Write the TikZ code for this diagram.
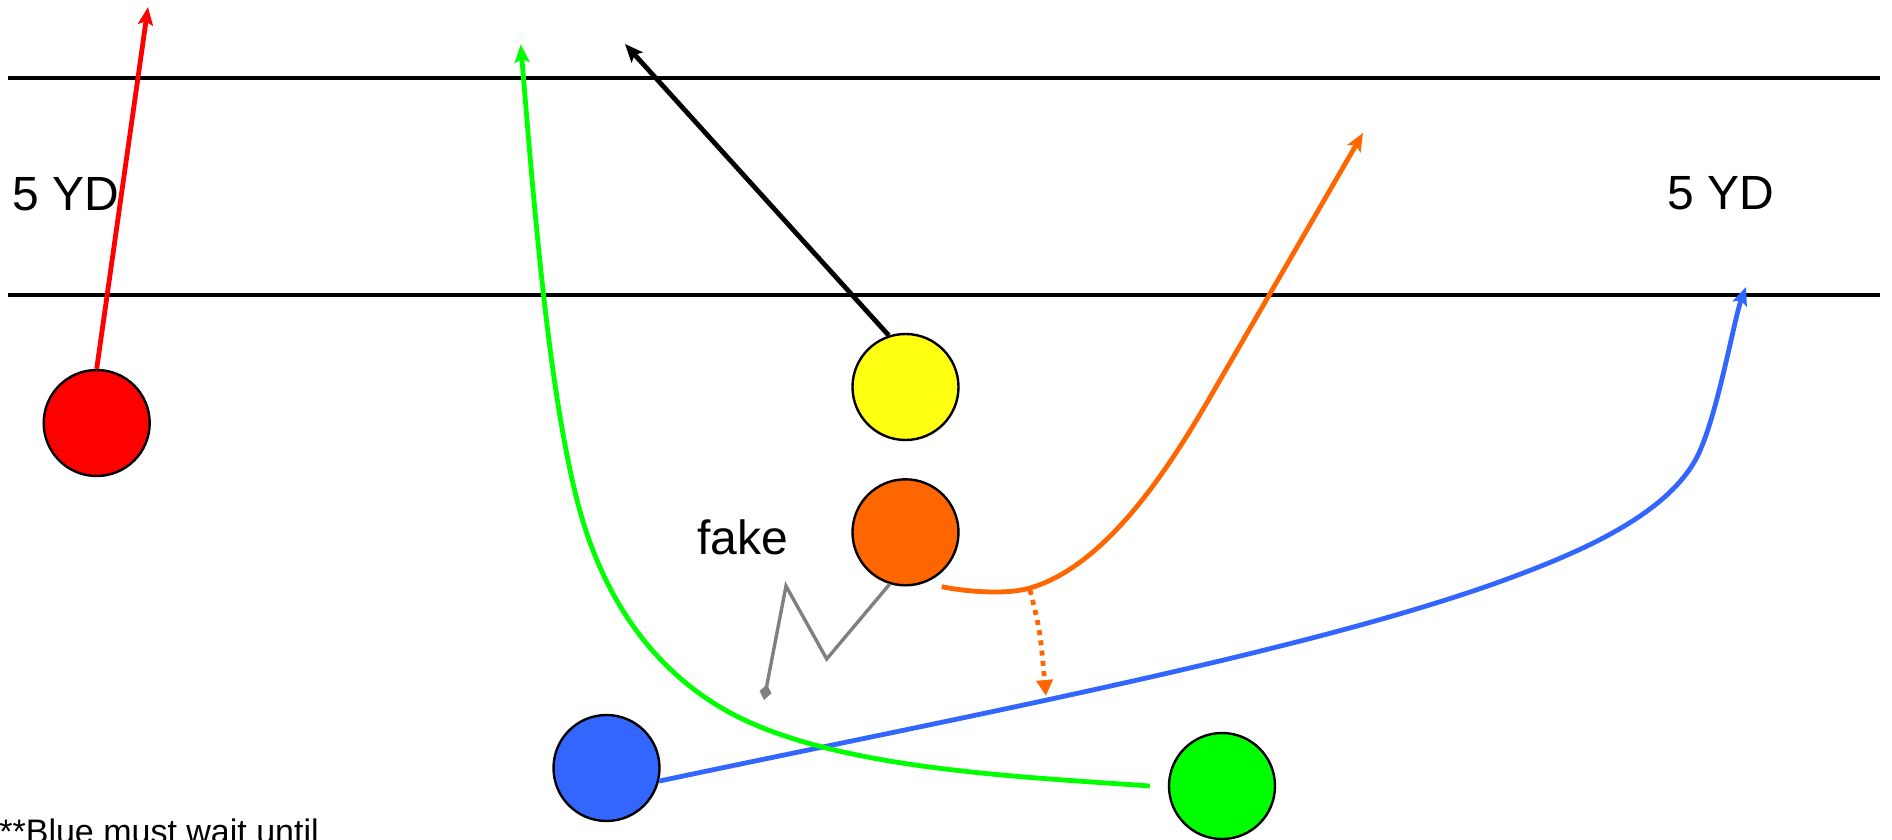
\documentclass[tikz,border=0pt]{standalone}
\usepackage{fontspec}
\setmainfont{Liberation Sans}
\usetikzlibrary{arrows.meta,calc}
\definecolor{pred}{HTML}{FF0000}
\definecolor{pyellow}{HTML}{FFFF11}
\definecolor{porange}{HTML}{FF6600}
\definecolor{pblue}{HTML}{3366FF}
\definecolor{pgreen}{HTML}{00FF00}
\definecolor{pgray}{HTML}{808080}
\begin{document}
\begin{tikzpicture}[x=0.5pt,y=-0.5pt,
  player/.style={circle,draw=black,line width=1.2pt,minimum size=53pt,inner sep=0pt},
  route/.style={line width=2.4pt,-{Stealth[length=9pt,width=7.5pt,inset=1.8pt]}},
  yardline/.style={line width=1.6pt,black},
  lbl/.style={font=\fontsize{24pt}{28pt}\selectfont,inner sep=0pt,anchor=base west}
]
\useasboundingbox (0,0) rectangle (1892,840);

% yard lines
\coordinate (t1) at (8,78);
\coordinate (t2) at (1880,78);
\coordinate (b1) at (8,295);
\coordinate (b2) at (1880,295);
\draw[yardline] (t1) -- (t2);
\draw[yardline] (b1) -- (b2);

% labels
\node[lbl] (yl1) at (12,211) {5 YD};
\node[lbl] (yl2) at (1667,210) {5 YD};
\node[lbl] (fk) at (697,554) {fake};
\node[inner sep=0pt,anchor=base west,font=\fontsize{17pt}{20pt}\selectfont] (note) at (-1,843) {**Blue must wait until};

% players
\node[player,fill=pred] (rd) at (96.7,423) {};
\node[player,fill=pyellow] (yl) at (905.5,387) {};
\node[player,fill=porange] (or) at (905.5,532.3) {};
\node[player,fill=pblue] (bl) at (606.5,768) {};
\node[player,fill=pgreen] (gr) at (1222,786) {};

% free ends
\coordinate (redtip) at (148,7);
\coordinate (blacktip) at (625,44);
\coordinate (orangetip) at (1363,133);
\coordinate (bluetip) at (1746,287);
\coordinate (greentip) at (520.7,44.5);
\coordinate (ostart) at ($(or.center)+(36.2,54.4)$);
\coordinate (odot) at (1030,590);
\coordinate (odottip) at (1046,696);

% red route
\draw[route,pred] (rd.north) -- (redtip);
% black route
\draw[route,black] (yl.108) -- (blacktip);
% orange route
\draw[route,porange] (ostart) .. controls (966.7,591.7) and (1006,595) .. (1030,588)
  .. controls (1116.4,562.8) and (1185,440.6) .. (1220,380) -- (orangetip);
% orange dotted
\draw[porange,line width=2.4pt,dash pattern=on 2.5pt off 2.65pt,-{Triangle[length=8pt,width=8pt]}]
  (odot) .. controls (1040,630) .. (odottip);
% gray fake
\draw[pgray,line width=1.7pt,-{Diamond[length=8pt,width=6pt]}]
  (or.-107) -- (826.7,659) -- (786,586) -- (764,700);
% blue route
\draw[route,pblue] (bl.-14) .. controls (957,718) and (1310,652) .. (1510,578)
  .. controls (1580,552) and (1667,515) .. (1697,457)
  .. controls (1717,418) and (1734,319) .. (bluetip);
% green route
\draw[route,pgreen] ($(gr.west)+(-18,0)$) .. controls (1011,776) and (822.8,768.7) .. (720,707)
  .. controls (651.4,665.9) and (601.6,597) .. (577,500)
  .. controls (547.5,383.7) and (533.2,194.5) .. (greentip);
\end{tikzpicture}
\end{document}
